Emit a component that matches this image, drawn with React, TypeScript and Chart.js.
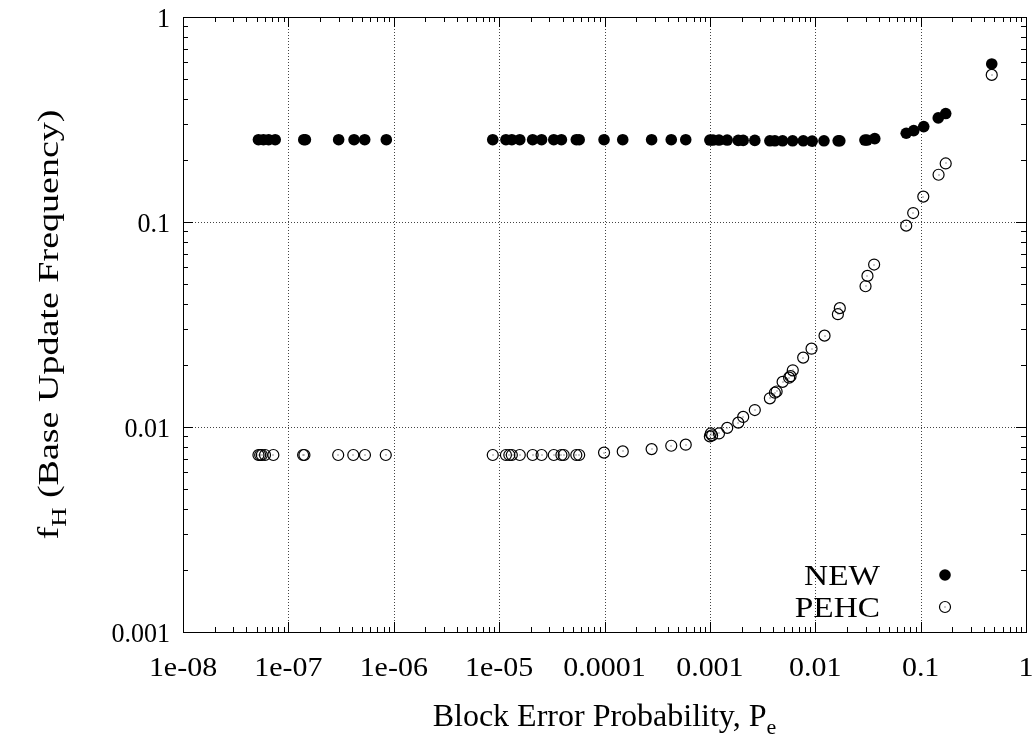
import React, { useEffect, useRef } from "react";
import { Chart, registerables } from "chart.js";

Chart.register(...registerables);

// ---- Data ----
const newX = [
  5.2e-8, 5.8e-8, 6.5e-8, 7.5e-8, 1.4e-7, 1.45e-7, 3.0e-7, 4.2e-7, 5.3e-7, 8.5e-7,
  8.7e-6, 1.16e-5, 1.32e-5, 1.57e-5, 2.08e-5, 2.53e-5, 3.3e-5, 3.9e-5, 5.4e-5, 5.75e-5,
  9.9e-5, 1.49e-4, 2.8e-4, 4.3e-4, 5.9e-4, 1.0e-3, 1.07e-3, 1.22e-3, 1.46e-3, 1.86e-3,
  2.07e-3, 2.67e-3, 3.71e-3, 4.14e-3, 4.9e-3, 6.1e-3, 7.7e-3, 9.35e-3, 1.21e-2, 1.65e-2,
  1.71e-2, 2.96e-2, 3.1e-2, 3.67e-2, 7.3e-2, 8.6e-2, 0.107, 0.147, 0.173, 0.473,
];
const newY = [
  0.252, 0.252, 0.252, 0.252, 0.252, 0.252, 0.252, 0.252, 0.252, 0.252,
  0.252, 0.252, 0.252, 0.252, 0.252, 0.252, 0.252, 0.252, 0.252, 0.252,
  0.252, 0.252, 0.252, 0.252, 0.252, 0.251, 0.251, 0.251, 0.251, 0.25,
  0.25, 0.25, 0.249, 0.249, 0.249, 0.249, 0.249, 0.248, 0.249, 0.249,
  0.249, 0.251, 0.251, 0.255, 0.271, 0.279, 0.292, 0.322, 0.338, 0.59,
];
const pehcX = [
  5.2e-8, 5.4e-8, 5.6e-8, 6.0e-8, 7.2e-8, 1.38e-7, 1.42e-7, 2.97e-7, 4.13e-7, 5.33e-7, 8.4e-7,
  8.7e-6, 1.16e-5, 1.25e-5, 1.32e-5, 1.57e-5, 2.08e-5, 2.53e-5, 3.3e-5, 3.9e-5, 4.1e-5,
  5.4e-5, 5.75e-5, 9.9e-5, 1.49e-4, 2.8e-4, 4.3e-4, 5.9e-4, 1.0e-3, 1.02e-3, 1.05e-3,
  1.22e-3, 1.46e-3, 1.86e-3, 2.07e-3, 2.67e-3, 3.71e-3, 4.14e-3, 4.3e-3, 4.9e-3, 5.65e-3,
  5.83e-3, 6.12e-3, 7.68e-3, 9.22e-3, 1.225e-2, 1.64e-2, 1.71e-2, 3.0e-2, 3.13e-2, 3.62e-2,
  7.3e-2, 8.5e-2, 0.106, 0.148, 0.173, 0.473,
];
const pehcY = [
  0.0073, 0.0073, 0.0073, 0.0073, 0.0073, 0.0073, 0.0073, 0.0073, 0.0073, 0.0073, 0.0073,
  0.0073, 0.0073, 0.0073, 0.0073, 0.0073, 0.0073, 0.0073, 0.0073, 0.0073, 0.0073,
  0.0073, 0.0073, 0.0075, 0.0076, 0.0078, 0.0081, 0.0082, 0.009, 0.0093, 0.0091,
  0.0093, 0.0099, 0.0105, 0.0112, 0.0121, 0.0138, 0.0147, 0.0149, 0.0166, 0.0174,
  0.0177, 0.0189, 0.0218, 0.0241, 0.0279, 0.0355, 0.038, 0.0486, 0.0546, 0.062,
  0.096, 0.1106, 0.133, 0.17, 0.193, 0.522,
];
const seriesNames = ["NEW", "PEHC"];
const xTickValues = [1e-8, 1e-7, 1e-6, 1e-5, 1e-4, 1e-3, 1e-2, 1e-1, 1];
const xTickLabels = ["1e-08", "1e-07", "1e-06", "1e-05", "0.0001", "0.001", "0.01", "0.1", "1"];
const yTickValues = [0.001, 0.01, 0.1, 1];
const yTickLabels = ["0.001", "0.01", "0.1", "1"];
const xTitle = ["Block Error Probability, P", "e"];
const yTitle = ["f", "H", " (Base Update Frequency)"];

const FONT = '"Liberation Serif", "Times New Roman", serif';
const W = 1035;
const H = 736;

// draw text with font size and horizontal stretch
function stretchedText(ctx: CanvasRenderingContext2D, text: string, x: number, y: number, size: number, sx: number, align: "left" | "right" | "center") {
  ctx.save();
  ctx.font = `${size}px ${FONT}`;
  const w = ctx.measureText(text).width * sx;
  let left = x;
  if (align === "right") left = x - w;
  else if (align === "center") left = x - w / 2;
  ctx.translate(left, y);
  ctx.scale(sx, 1);
  ctx.textAlign = "left";
  ctx.fillText(text, 0, 0);
  ctx.restore();
  return w;
}

const decorPlugin = {
  id: "decor",
  beforeDatasetsDraw(chart: any) {
    const { ctx, chartArea: a, scales } = chart;
    const xs = scales.x;
    const ys = scales.y;
    ctx.save();
    ctx.strokeStyle = "#444";
    ctx.lineWidth = 1;
    ctx.setLineDash([1, 2]);
    for (const v of xTickValues.slice(1, -1)) {
      const px = Math.round(xs.getPixelForValue(v)) + 0.5;
      ctx.beginPath();
      ctx.moveTo(px, a.top);
      ctx.lineTo(px, a.bottom);
      ctx.stroke();
    }
    for (const v of yTickValues.slice(1, -1)) {
      const py = Math.round(ys.getPixelForValue(v)) + 0.5;
      ctx.beginPath();
      ctx.moveTo(a.left, py);
      ctx.lineTo(a.right, py);
      ctx.stroke();
    }
    ctx.restore();
  },
  afterDatasetsDraw(chart: any) {
    const { ctx, chartArea: a, scales } = chart;
    const xs = scales.x;
    const ys = scales.y;
    ctx.save();
    // centre dots of hollow markers
    ctx.fillStyle = "#333";
    const meta = chart.getDatasetMeta(1);
    meta.data.forEach((pt: any) => {
      ctx.fillRect(Math.round(pt.x) - 0.5, Math.round(pt.y) - 0.5, 1, 1);
    });
    ctx.setLineDash([]);
    ctx.strokeStyle = "#000";
    ctx.lineWidth = 1;
    ctx.strokeRect(Math.round(a.left) + 0.5, Math.round(a.top) + 0.5, Math.round(a.right - a.left), Math.round(a.bottom - a.top));
    const major = 10;
    const minor = 5;
    for (let i = 0; i < xTickValues.length; i++) {
      const v = xTickValues[i];
      for (let m = 1; m <= 9; m++) {
        const val = v * m;
        if (val > xTickValues[xTickValues.length - 1] * 1.0001) break;
        const px = Math.round(xs.getPixelForValue(val)) + 0.5;
        const len = m === 1 ? major : minor;
        ctx.beginPath();
        ctx.moveTo(px, a.bottom);
        ctx.lineTo(px, a.bottom - len);
        ctx.moveTo(px, a.top);
        ctx.lineTo(px, a.top + len);
        ctx.stroke();
      }
    }
    for (let i = 0; i < yTickValues.length; i++) {
      const v = yTickValues[i];
      for (let m = 1; m <= 9; m++) {
        const val = v * m;
        if (val > yTickValues[yTickValues.length - 1] * 1.0001) break;
        const py = Math.round(ys.getPixelForValue(val)) + 0.5;
        const len = m === 1 ? major : minor;
        ctx.beginPath();
        ctx.moveTo(a.left, py);
        ctx.lineTo(a.left + len, py);
        ctx.moveTo(a.right, py);
        ctx.lineTo(a.right - len, py);
        ctx.stroke();
      }
    }
    // tick labels
    ctx.fillStyle = "#000";
    ctx.textBaseline = "alphabetic";
    xTickValues.forEach((v, i) => {
      stretchedText(ctx, xTickLabels[i], xs.getPixelForValue(v), a.bottom + 44, 28, 1.07, "center");
    });
    yTickValues.forEach((v, i) => {
      stretchedText(ctx, yTickLabels[i], a.left - 13, ys.getPixelForValue(v) + 10, 28, 0.93, "right");
    });
    // x title with subscript
    ctx.font = `32px ${FONT}`;
    const w1 = ctx.measureText(xTitle[0]).width;
    ctx.font = `22px ${FONT}`;
    const w2 = ctx.measureText(xTitle[1]).width;
    const cx = (a.left + a.right) / 2;
    const startX = cx - (w1 + w2) / 2;
    const baseY = 726;
    ctx.textAlign = "left";
    ctx.font = `32px ${FONT}`;
    ctx.fillText(xTitle[0], startX, baseY);
    ctx.font = `22px ${FONT}`;
    ctx.fillText(xTitle[1], startX + w1, baseY + 8);
    // y title rotated, stretched along its length to the reference extent
    ctx.save();
    ctx.translate(58, (a.top + a.bottom) / 2);
    ctx.rotate(-Math.PI / 2);
    ctx.font = `30px ${FONT}`;
    const y1 = ctx.measureText(yTitle[0]).width;
    const y3 = ctx.measureText(yTitle[2]).width;
    ctx.font = `21px ${FONT}`;
    const y2 = ctx.measureText(yTitle[1]).width;
    const total = y1 + y2 + y3;
    const k = 430 / total;
    ctx.scale(k, 1);
    let sx = -total / 2;
    ctx.font = `30px ${FONT}`;
    ctx.fillText(yTitle[0], sx, 0);
    sx += y1;
    ctx.font = `21px ${FONT}`;
    ctx.fillText(yTitle[1], sx, 8);
    sx += y2;
    ctx.font = `30px ${FONT}`;
    ctx.fillText(yTitle[2], sx, 0);
    ctx.restore();
    // legend
    stretchedText(ctx, seriesNames[0], 880, 585, 29, 1.15, "right");
    stretchedText(ctx, seriesNames[1], 880, 617, 29, 1.15, "right");
    ctx.beginPath();
    ctx.arc(945, 575, 5.8, 0, Math.PI * 2);
    ctx.fill();
    ctx.lineWidth = 1.2;
    ctx.beginPath();
    ctx.arc(945, 607, 5.5, 0, Math.PI * 2);
    ctx.stroke();
    ctx.fillStyle = "#333";
    ctx.fillRect(944.5, 606.5, 1, 1);
    ctx.restore();
  },
};

export default function App() {
  const ref = useRef<HTMLCanvasElement | null>(null);
  useEffect(() => {
    if (!ref.current) return;
    const chart = new Chart(ref.current, {
      type: "scatter",
      data: {
        datasets: [
          {
            label: seriesNames[0],
            data: newX.map((x, i) => ({ x, y: newY[i] })),
            pointStyle: "circle",
            pointRadius: 5.8,
            backgroundColor: "#000",
            borderWidth: 0,
          },
          {
            label: seriesNames[1],
            data: pehcX.map((x, i) => ({ x, y: pehcY[i] })),
            pointStyle: "circle",
            pointRadius: 5.5,
            backgroundColor: "rgba(0,0,0,0)",
            borderColor: "#000",
            borderWidth: 1.2,
          },
        ],
      },
      options: {
        animation: false,
        responsive: false,
        devicePixelRatio: 1,
        layout: { padding: { left: 183, right: 9, top: 17, bottom: 104 } },
        plugins: { legend: { display: false }, tooltip: { enabled: false } },
        scales: {
          x: { type: "logarithmic", min: 1e-8, max: 1, display: false },
          y: { type: "logarithmic", min: 0.001, max: 1, display: false },
        },
      },
      plugins: [decorPlugin],
    });
    return () => chart.destroy();
  }, []);
  return (
    <div style={{ position: "fixed", left: 0, top: 0, width: W, height: H, background: "#fff" }}>
      <canvas ref={ref} width={W} height={H} style={{ width: W, height: H, display: "block" }} />
    </div>
  );
}
